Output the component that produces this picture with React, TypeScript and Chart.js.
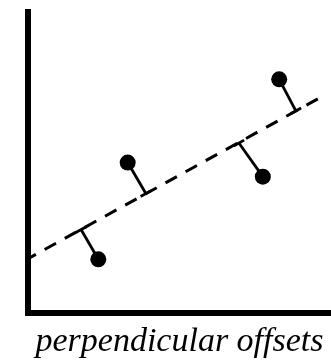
import React, { useEffect, useRef } from "react";
import { Chart, registerables } from "chart.js";

Chart.register(...registerables);

// Data points (arbitrary units, 0..100)
const pointX = [23.2, 32.9, 77.5, 82.9];
const pointY = [17.7, 49.9, 45.2, 77.6];

// Feet of the perpendicular offsets on the fitted line
const footX = [17.5, 38.9, 69.6, 88.4];
const footY = [27.6, 39.6, 56.4, 67.1];

// Fitted (dashed) line end points
const fitX = [0, 98.0];
const fitY = [17.9, 72.4];

const axisTitle = "perpendicular offsets";

export default function App() {
  const ref = useRef<HTMLCanvasElement | null>(null);

  useEffect(() => {
    if (!ref.current) return;
    const offsetSets = pointX.map((px, i) => ({
      type: "line" as const,
      data: [
        { x: px, y: pointY[i] },
        { x: footX[i], y: footY[i] },
      ],
      borderColor: "#000",
      borderWidth: 2.8,
      pointRadius: 0,
      fill: false,
      order: 3,
    }));
    const chart = new Chart(ref.current, {
      type: "scatter",
      data: {
        datasets: [
          {
            type: "scatter",
            data: pointX.map((x, i) => ({ x, y: pointY[i] })),
            backgroundColor: "#000",
            borderWidth: 0,
            pointRadius: 8,
            pointHoverRadius: 8,
            order: 1,
          },
          {
            type: "scatter",
            data: footX.map((x, i) => ({ x, y: footY[i] })),
            pointStyle: "line",
            rotation: -28.9,
            borderColor: "#000",
            borderWidth: 2.8,
            pointRadius: 6,
            pointHoverRadius: 6,
            order: 2,
          },
          {
            type: "line",
            data: fitX.map((x, i) => ({ x, y: fitY[i] })),
            borderColor: "#000",
            borderWidth: 3,
            borderDash: [13, 10],
            borderDashOffset: 4,
            pointRadius: 0,
            fill: false,
            order: 4,
          },
          ...offsetSets,
        ] as any,
      },
      options: {
        animation: false,
        responsive: false,
        events: [],
        layout: {
          autoPadding: false,
          padding: { left: 28, top: 12, right: 0, bottom: 0 },
        },
        plugins: {
          legend: { display: false },
          tooltip: { enabled: false },
          title: { display: false },
        },
        scales: {
          x: {
            type: "linear",
            min: 0,
            max: 100,
            ticks: { display: false },
            grid: { display: false, drawTicks: false, tickLength: 0 },
            border: { display: true, width: 6, color: "#000" },
            title: {
              display: true,
              text: axisTitle,
              color: "#000",
              font: {
                family: '"Liberation Serif", serif',
                style: "italic",
                size: 34,
                lineHeight: 1,
              },
              padding: { top: 13, bottom: 3.5 },
            },
          },
          y: {
            type: "linear",
            min: 0,
            max: 100,
            ticks: { display: false },
            grid: { display: false, drawTicks: false, tickLength: 0 },
            border: { display: true, width: 6, color: "#000" },
          },
        },
      },
    });
    return () => chart.destroy();
  }, []);

  return (
    <div
      style={{
        position: "absolute",
        left: 0,
        top: 0,
        width: 331,
        height: 363,
        overflow: "hidden",
        background: "#fff",
      }}
    >
      <canvas ref={ref} width={331} height={363} style={{ display: "block" }} />
    </div>
  );
}
